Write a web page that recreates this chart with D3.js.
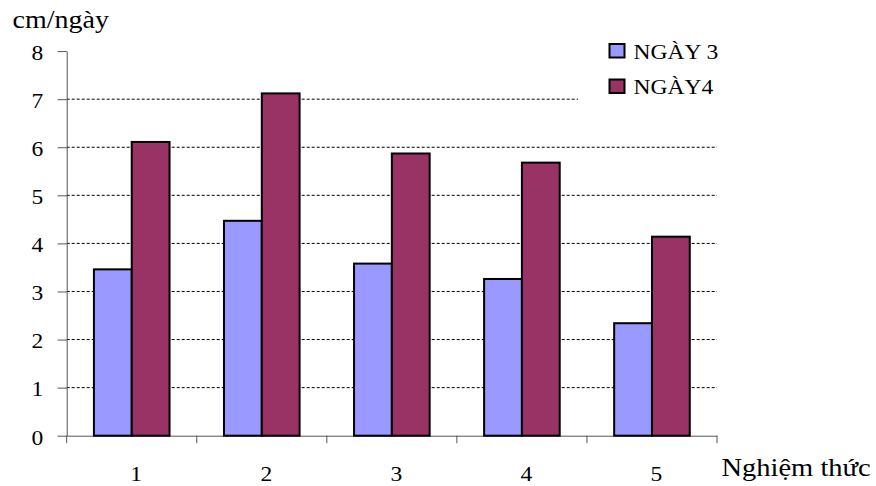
<!DOCTYPE html>
<html>
<head>
<meta charset="utf-8">
<script src="https://cdn.jsdelivr.net/npm/d3@7"></script>
<style>
  html, body { margin: 0; padding: 0; background: #fff; }
  svg { display: block; }
  text { font-family: "Times New Roman", "Liberation Serif", Tinos, serif; fill: #000; }
</style>
</head>
<body>
<svg id="chart" width="876" height="486"></svg>
<script>
// Growth rate (cm/ngày) per treatment, measured on day 3 and day 4
const categories = ["1", "2", "3", "4", "5"];
const seriesNames = ["NGÀY 3", "NGÀY4"];
const ngay3 = [3.46, 4.47, 3.58, 3.26, 2.34];
const ngay4 = [6.11, 7.12, 5.87, 5.68, 4.14];
const yTicks = [0, 1, 2, 3, 4, 5, 6, 7, 8];
const gridValues = [1, 2, 3, 4, 5, 6, 7];
const yTitle = "cm/ngày";
const xTitle = "Nghiệm thức";

const colors = { "NGÀY 3": "#9999FF", "NGÀY4": "#993366" };
const stretch = 1.07; // slightly wide serif lettering

const svg = d3.select("#chart");

const plotLeft = 66.7, plotRight = 717, plotTop = 51.1, plotBottom = 435.7;

const x0 = d3.scaleBand().domain(categories).range([plotLeft, plotRight]).padding(0);
const x1 = d3.scaleBand().domain(seriesNames).range([0, x0.bandwidth()])
  .paddingInner(0).paddingOuter(0.72);
const y = d3.scaleLinear().domain([0, 8]).range([plotBottom, plotTop]);

const rows = categories.map((c, i) => ({ cat: c, values: [
  { key: seriesNames[0], value: ngay3[i] },
  { key: seriesNames[1], value: ngay4[i] }
]}));

// dashed gridlines
svg.append("g").selectAll("line").data(gridValues).join("line")
  .attr("x1", plotLeft).attr("x2", plotRight)
  .attr("y1", d => y(d)).attr("y2", d => y(d))
  .attr("stroke", "#000").attr("stroke-width", 1)
  .attr("stroke-dasharray", "3,2");

// y axis
const yAxis = svg.append("g").attr("transform", `translate(${plotLeft},0)`)
  .call(d3.axisLeft(y).tickValues(yTicks).tickSize(9).tickSizeOuter(0))
  .attr("font-family", null).attr("font-size", null);
yAxis.select(".domain").attr("stroke", "#555");
yAxis.selectAll(".tick line").attr("stroke", "#555");
yAxis.selectAll(".tick text")
  .attr("x", 0).attr("dy", null).attr("y", 0)
  .attr("text-anchor", "end")
  .attr("font-size", 22)
  .attr("transform", `translate(-23.4,8.3) scale(${stretch},1)`);

// x axis with category labels and boundary ticks
const xAxis = svg.append("g").attr("transform", `translate(0,${plotBottom})`)
  .call(d3.axisBottom(x0).tickSize(0).tickSizeOuter(0))
  .attr("font-family", null).attr("font-size", null);
xAxis.select(".domain").attr("stroke", "#555");
xAxis.selectAll(".tick text")
  .attr("y", 0).attr("dy", null)
  .attr("text-anchor", "middle")
  .attr("font-size", 22)
  .attr("transform", `translate(4.5,45) scale(${stretch},1)`);
const boundaries = categories.map(c => x0(c)).concat([x0.range()[1]]);
xAxis.append("g").selectAll("line").data(boundaries).join("line")
  .attr("x1", d => d).attr("x2", d => d)
  .attr("y1", 0).attr("y2", 7.5)
  .attr("stroke", "#555");

// bars
const groups = svg.append("g").selectAll("g").data(rows).join("g")
  .attr("transform", d => `translate(${x0(d.cat)},0)`);
groups.selectAll("rect").data(d => d.values).join("rect")
  .attr("x", d => x1(d.key))
  .attr("y", d => y(d.value))
  .attr("width", x1.bandwidth())
  .attr("height", d => y(0) - y(d.value))
  .attr("fill", d => colors[d.key])
  .attr("stroke", "#000")
  .attr("stroke-width", 2);

// legend
const legend = svg.append("g");
legend.append("rect").attr("x", 578).attr("y", 28).attr("width", 150).attr("height", 82)
  .attr("fill", "#fff");
const legendRows = [{ key: seriesNames[0], sy: 44, ty: 58.5 }, { key: seriesNames[1], sy: 79.5, ty: 94 }];
legendRows.forEach(r => {
  legend.append("rect").attr("x", 609.5).attr("y", r.sy).attr("width", 15).attr("height", 13.5)
    .attr("fill", colors[r.key]).attr("stroke", "#000").attr("stroke-width", 2);
  legend.append("text").attr("font-size", 22)
    .attr("transform", `translate(633.5,${r.ty}) scale(${stretch},1)`)
    .text(r.key);
});

// axis titles
svg.append("text").attr("font-size", 25)
  .attr("transform", `translate(12.5,27.5) scale(1.12,1)`)
  .text(yTitle);
svg.append("text").attr("font-size", 25)
  .attr("transform", `translate(721.5,476) scale(1.14,1)`)
  .text(xTitle);
</script>
</body>
</html>
